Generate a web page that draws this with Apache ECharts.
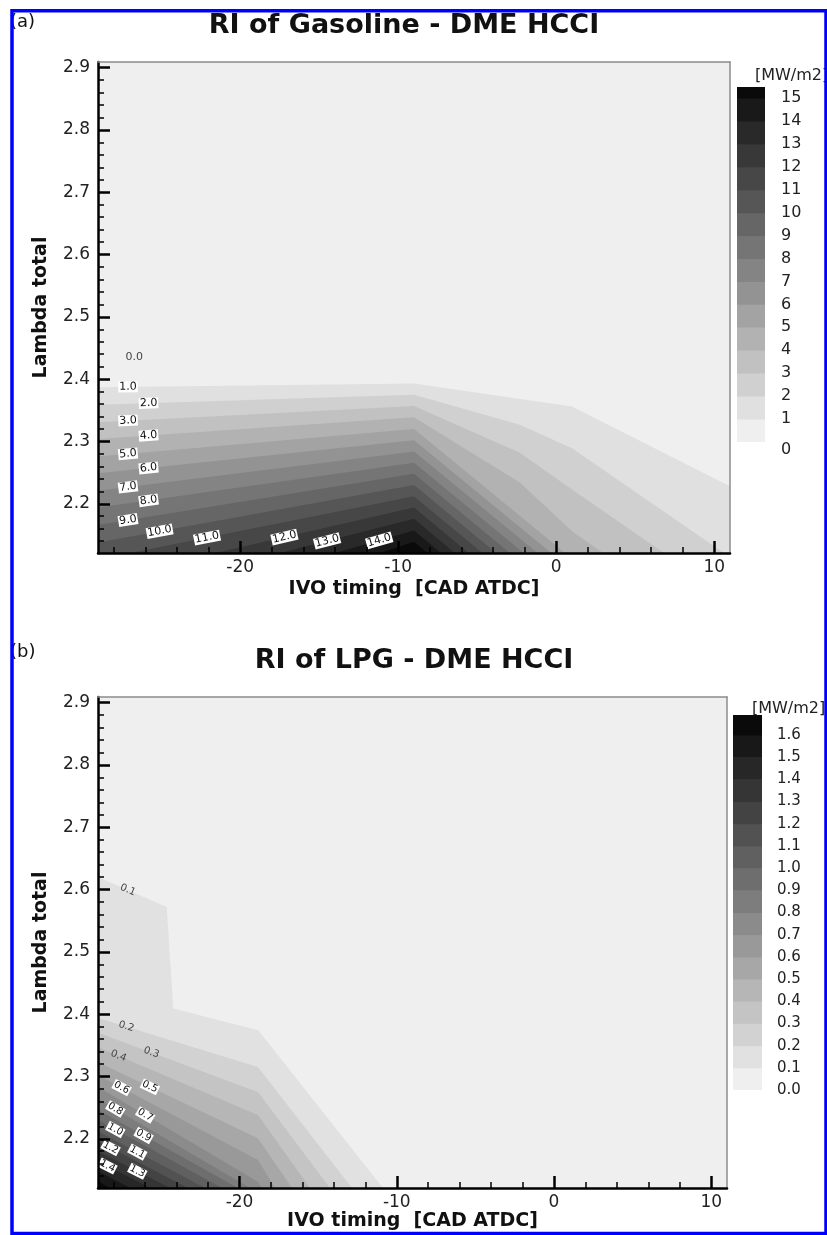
<!DOCTYPE html>
<html>
<head>
<meta charset="utf-8">
<title>RI contours</title>
<script src="https://cdn.jsdelivr.net/npm/echarts@6/dist/echarts.min.js"></script>
<style>
  html, body { margin: 0; padding: 0; background: #fff; }
  #chart { width: 827px; height: 1235px; }
</style>
</head>
<body>
<div id="chart"></div>
<script>
// ---- axis ranges and ticks -------------------------------------------------
const X_RANGE = [-29, 11];
const LAMBDA_RANGE = [2.121, 2.909];
const xMajorTicks = [-20, -10, 0, 10];
const yMajorTicks = [2.2, 2.3, 2.4, 2.5, 2.6, 2.7, 2.8, 2.9];

// ---- (a) Gasoline - DME: ringing intensity iso-lines [IVO, lambda] ---------
const gasolineLevels = [1, 2, 3, 4, 5, 6, 7, 8, 9, 10, 11, 12, 13, 14, 15];
const gasolineIsolines = [
  [[-29, 2.387], [-9, 2.393], [1, 2.356], [11, 2.228]],
  [[-29, 2.359], [-9, 2.375], [-2.3, 2.327], [1, 2.289], [10.62, 2.121]],
  [[-29, 2.331], [-9, 2.357], [-2.3, 2.282], [1, 2.223], [6.82, 2.121]],
  [[-29, 2.304], [-9, 2.339], [-2.3, 2.234], [1, 2.156], [2.96, 2.121]],
  [[-29, 2.276], [-9, 2.320], [0.56, 2.121]],
  [[-29, 2.249], [-9, 2.302], [-0.31, 2.121]],
  [[-29, 2.221], [-9, 2.284], [-1.18, 2.121]],
  [[-29, 2.194], [-9, 2.266], [-2.05, 2.121]],
  [[-29, 2.166], [-9, 2.248], [-2.93, 2.121]],
  [[-29, 2.138], [-9, 2.230], [-3.80, 2.121]],
  [[-26.97, 2.121], [-9, 2.212], [-4.67, 2.121]],
  [[-21.59, 2.121], [-9, 2.194], [-5.54, 2.121]],
  [[-17.48, 2.121], [-9, 2.176], [-6.42, 2.121]],
  [[-14.0, 2.121], [-9, 2.157], [-7.29, 2.121]],
  [[-11.15, 2.121], [-9, 2.139], [-8.16, 2.121]]
];
// contour labels: [level, IVO] on the iso-line, or [level, IVO, lambda] off-line
const gasolineLabels = [
  [0, -26.7, 2.435],
  [1, -27.1], [2, -25.8], [3, -27.1], [4, -25.8], [5, -27.1], [6, -25.8],
  [7, -27.1], [8, -25.8], [9, -27.1], [10, -25.1], [11, -22.1], [12, -17.2],
  [13, -14.5], [14, -11.2]
];
const gasolineLegendTicks = [0, 1, 2, 3, 4, 5, 6, 7, 8, 9, 10, 11, 12, 13, 14, 15];
const gasolineLegendTop = 15.48;

// ---- (b) LPG - DME ----------------------------------------------------------
const lpgLevels = [0.1, 0.2, 0.3, 0.4, 0.5, 0.6, 0.7, 0.8, 0.9, 1.0, 1.1, 1.2, 1.3, 1.4, 1.5, 1.6];
const lpgIsolines = [
  [[-29, 2.620], [-24.63, 2.572], [-24.21, 2.409], [-18.81, 2.374], [-10.88, 2.121]],
  [[-29, 2.394], [-18.83, 2.315], [-12.85, 2.121]],
  [[-29, 2.370], [-18.83, 2.275], [-14.25, 2.121]],
  [[-29, 2.347], [-18.83, 2.238], [-15.52, 2.121]],
  [[-29, 2.323], [-18.83, 2.201], [-16.66, 2.121]],
  [[-29, 2.302], [-18.83, 2.166], [-17.74, 2.121]],
  [[-29, 2.283], [-18.83, 2.131], [-18.57, 2.121]],
  [[-29, 2.264], [-19.33, 2.121]],
  [[-29, 2.246], [-20.10, 2.121]],
  [[-29, 2.230], [-21.11, 2.121]],
  [[-29, 2.212], [-22.20, 2.121]],
  [[-29, 2.196], [-23.28, 2.121]],
  [[-29, 2.180], [-24.42, 2.121]],
  [[-29, 2.164], [-25.69, 2.121]],
  [[-29, 2.148], [-26.96, 2.121]],
  [[-29, 2.132], [-28.24, 2.121]]
];
const lpgLabels = [
  [0.1, -27.1], [0.2, -27.2], [0.3, -25.6], [0.4, -27.7], [0.5, -25.7],
  [0.6, -27.5], [0.7, -26.0], [0.8, -27.9], [0.9, -26.1], [1.0, -27.9],
  [1.1, -26.5], [1.2, -28.2], [1.3, -26.5], [1.4, -28.4]
];
const lpgLegendTicks = [0.0, 0.1, 0.2, 0.3, 0.4, 0.5, 0.6, 0.7, 0.8, 0.9, 1.0, 1.1, 1.2, 1.3, 1.4, 1.5, 1.6];
const lpgLegendTop = 1.69;

// ---- helpers ---------------------------------------------------------------
const FONT = "'DejaVu Sans', sans-serif";

function minorTicks(lo, hi, step, majors) {
  const out = [];
  const n = Math.round((hi - lo) / step);
  for (let i = 0; i <= n; i++) {
    const v = Math.round((lo + i * step) * 1000) / 1000;
    if (!majors.some(m => Math.abs(m - v) < 1e-6)) out.push(v);
  }
  return out;
}
const xMinorTicks = minorTicks(-28, 10, 2, xMajorTicks);
const yMinorTicks = minorTicks(2.14, 2.90, 0.02, yMajorTicks);

// grey ramp: band k of n, light to black
function bandColor(k, n) {
  const g = Math.round(239 - k * 229 / (n - 1));
  return 'rgb(' + g + ',' + g + ',' + g + ')';
}

// lambda of an iso-line at a given IVO, plus the segment it falls on
function onLine(line, x) {
  let i = 0;
  while (i < line.length - 2 && x > line[i + 1][0]) i++;
  const a = line[i], b = line[i + 1];
  const t = (x - a[0]) / (b[0] - a[0]);
  return { lam: a[1] + t * (b[1] - a[1]), a, b };
}

function plotAxes(gridIndex, nameGapX) {
  const xs = [
    {
      type: 'value', gridIndex, position: 'bottom', min: X_RANGE[0], max: X_RANGE[1], z: 6,
      axisLine: { show: true, onZero: false, lineStyle: { color: '#000', width: 2.5 } },
      axisTick: { show: true, inside: true, length: 12, customValues: xMajorTicks, lineStyle: { color: '#000', width: 2.5 } },
      axisLabel: { show: true, customValues: xMajorTicks, margin: 6, color: '#222', fontSize: 17, fontFamily: FONT },
      splitLine: { show: false },
      name: 'IVO timing  [CAD ATDC]', nameLocation: 'middle', nameGap: nameGapX,
      nameTextStyle: { fontSize: 19, fontWeight: 'bold', fontFamily: FONT, color: '#111' }
    },
    {
      type: 'value', gridIndex, position: 'bottom', min: X_RANGE[0], max: X_RANGE[1], z: 6,
      axisLine: { show: false, onZero: false },
      axisTick: { show: true, inside: true, length: 6, customValues: xMinorTicks, lineStyle: { color: '#000', width: 1.5 } },
      axisLabel: { show: false }, splitLine: { show: false }
    },
    {
      type: 'value', gridIndex, position: 'top', min: X_RANGE[0], max: X_RANGE[1], z: 6,
      axisLine: { show: true, onZero: false, lineStyle: { color: '#8c8c8c', width: 1.5 } },
      axisTick: { show: false }, axisLabel: { show: false }, splitLine: { show: false }
    }
  ];
  const ys = [
    {
      type: 'value', gridIndex, position: 'left', min: LAMBDA_RANGE[0], max: LAMBDA_RANGE[1], z: 6,
      axisLine: { show: true, onZero: false, lineStyle: { color: '#000', width: 2.5 } },
      axisTick: { show: true, inside: true, length: 12, customValues: yMajorTicks, lineStyle: { color: '#000', width: 2.5 } },
      axisLabel: { show: true, customValues: yMajorTicks, margin: 8, color: '#222', fontSize: 17, fontFamily: FONT,
                   formatter: v => v.toFixed(1) },
      splitLine: { show: false },
      name: 'Lambda total', nameLocation: 'middle', nameRotate: 90, nameGap: 47,
      nameTextStyle: { fontSize: 19, fontWeight: 'bold', fontFamily: FONT, color: '#111' }
    },
    {
      type: 'value', gridIndex, position: 'left', min: LAMBDA_RANGE[0], max: LAMBDA_RANGE[1], z: 6,
      axisLine: { show: false, onZero: false },
      axisTick: { show: true, inside: true, length: 6, customValues: yMinorTicks, lineStyle: { color: '#000', width: 1.5 } },
      axisLabel: { show: false }, splitLine: { show: false }
    },
    {
      type: 'value', gridIndex, position: 'right', min: LAMBDA_RANGE[0], max: LAMBDA_RANGE[1], z: 6,
      axisLine: { show: true, onZero: false, lineStyle: { color: '#8c8c8c', width: 1.5 } },
      axisTick: { show: false }, axisLabel: { show: false }, splitLine: { show: false }
    }
  ];
  return { xs, ys };
}

function legendAxes(gridIndex, top, ticks, fmt, fontSize, margin) {
  return {
    x: { type: 'value', gridIndex, min: 0, max: 1, show: false },
    y: {
      type: 'value', gridIndex, position: 'right', min: 0, max: top,
      axisLine: { show: false }, axisTick: { show: false }, splitLine: { show: false },
      axisLabel: {
        show: true, customValues: ticks, margin, color: '#222', fontSize, fontFamily: FONT, formatter: fmt,
        rich: { low: { padding: [16, 0, 0, 0], fontSize, fontFamily: FONT, color: '#222' } }
      }
    }
  };
}

// filled contour bands: region at or above each level, stacked light to dark
function bandSeries(xi, yi, levels, lines) {
  const n = levels.length + 1;
  return {
    type: 'custom', xAxisIndex: xi, yAxisIndex: yi, clip: true, silent: true, z: 2,
    data: levels.map((lv, i) => [i, lv]),
    renderItem(params, api) {
      const i = api.value(0);
      const line = lines[i];
      const pts = line.map(p => api.coord(p));
      pts.push(api.coord([line[line.length - 1][0], LAMBDA_RANGE[0]]));
      pts.push(api.coord([line[0][0], LAMBDA_RANGE[0]]));
      return { type: 'polygon', shape: { points: pts }, style: { fill: bandColor(i + 1, n), stroke: null } };
    }
  };
}

function labelSeries(xi, yi, levels, lines, labels, fontSize, boxFrom) {
  return {
    type: 'custom', xAxisIndex: xi, yAxisIndex: yi, clip: false, silent: true, z: 4,
    data: labels.map((l, i) => [i, l[0]]),
    renderItem(params, api) {
      const lab = labels[api.value(0)];
      const idx = levels.findIndex(v => Math.abs(v - lab[0]) < 1e-9);
      let pt, rot = 0;
      if (lab.length > 2 || idx < 0) {
        pt = api.coord([lab[1], lab[2]]);
      } else {
        const r = onLine(lines[idx], lab[1]);
        pt = api.coord([lab[1], r.lam]);
        const pa = api.coord(r.a), pb = api.coord(r.b);
        rot = -Math.atan2(pb[1] - pa[1], pb[0] - pa[0]);
      }
      const boxed = lab[0] >= boxFrom;
      return {
        type: 'text', x: pt[0], y: pt[1], rotation: rot,
        style: {
          text: lab[0].toFixed(1),
          fontSize, fontFamily: FONT,
          fill: boxed ? '#111' : '#444',
          align: 'center', verticalAlign: 'middle',
          textAlign: 'center', textVerticalAlign: 'middle',
          backgroundColor: boxed ? '#ffffff' : 'transparent',
          padding: [0, 1]
        }
      };
    }
  };
}

function legendSeries(xi, yi, ticks, top) {
  const n = ticks.length;
  return {
    type: 'custom', xAxisIndex: xi, yAxisIndex: yi, clip: true, silent: true,
    data: ticks.map((t, k) => [k, t, k + 1 < n ? ticks[k + 1] : top]),
    renderItem(params, api) {
      const k = api.value(0);
      const p0 = api.coord([0, api.value(2)]);
      const p1 = api.coord([1, api.value(1)]);
      return {
        type: 'rect',
        shape: { x: p0[0], y: p0[1], width: p1[0] - p0[0], height: p1[1] - p0[1] + 0.5 },
        style: { fill: bandColor(k, n) }
      };
    }
  };
}

// ---- layout ----------------------------------------------------------------
const aPlot = plotAxes(0, 27);
const aLeg = legendAxes(1, gasolineLegendTop, gasolineLegendTicks,
  v => (v === 0 ? '{low|0}' : String(Math.round(v))), 16, 16);
const bPlot = plotAxes(2, 24);
const bLeg = legendAxes(3, lpgLegendTop, lpgLegendTicks, v => v.toFixed(1), 15, 15);

const plotBg = bandColor(0, 2);

const option = {
  backgroundColor: '#ffffff',
  animation: false,
  grid: [
    { left: 98, top: 62, width: 632, height: 491, show: true, backgroundColor: plotBg, borderWidth: 0, outerBoundsMode: 'none' },
    { left: 737, top: 87, width: 28, height: 355, show: false, outerBoundsMode: 'none' },
    { left: 98, top: 697, width: 629, height: 491, show: true, backgroundColor: plotBg, borderWidth: 0, outerBoundsMode: 'none' },
    { left: 733, top: 715, width: 29, height: 375, show: false, outerBoundsMode: 'none' }
  ],
  xAxis: [...aPlot.xs, aLeg.x, ...bPlot.xs, bLeg.x],
  yAxis: [...aPlot.ys, aLeg.y, ...bPlot.ys, bLeg.y],
  series: [
    bandSeries(0, 0, gasolineLevels, gasolineIsolines),
    labelSeries(0, 0, gasolineLevels, gasolineIsolines, gasolineLabels, 11, 1),
    legendSeries(3, 3, gasolineLegendTicks, gasolineLegendTop),
    bandSeries(4, 4, lpgLevels, lpgIsolines),
    labelSeries(4, 4, lpgLevels, lpgIsolines, lpgLabels, 10, 0.45),
    legendSeries(7, 7, lpgLegendTicks, lpgLegendTop)
  ],
  graphic: [
    { type: 'text', x: 404, y: 26, z: 10,
      style: { text: 'RI of Gasoline - DME HCCI', fontSize: 27, fontWeight: 'bold', fontFamily: FONT, fill: '#111',
               align: 'center', verticalAlign: 'middle', textAlign: 'center', textVerticalAlign: 'middle' } },
    { type: 'text', x: 414, y: 661, z: 10,
      style: { text: 'RI of LPG - DME HCCI', fontSize: 27, fontWeight: 'bold', fontFamily: FONT, fill: '#111',
               align: 'center', verticalAlign: 'middle', textAlign: 'center', textVerticalAlign: 'middle' } },
    { type: 'text', x: 10, y: 22, z: 10,
      style: { text: '(a)', fontSize: 18, fontFamily: FONT, fill: '#111',
               align: 'left', verticalAlign: 'middle', textAlign: 'left', textVerticalAlign: 'middle' } },
    { type: 'text', x: 10, y: 652, z: 10,
      style: { text: '(b)', fontSize: 18, fontFamily: FONT, fill: '#111',
               align: 'left', verticalAlign: 'middle', textAlign: 'left', textVerticalAlign: 'middle' } },
    { type: 'text', x: 755, y: 76, z: 10,
      style: { text: '[MW/m2]', fontSize: 16, fontFamily: FONT, fill: '#222',
               align: 'left', verticalAlign: 'middle', textAlign: 'left', textVerticalAlign: 'middle' } },
    { type: 'text', x: 752, y: 709, z: 10,
      style: { text: '[MW/m2]', fontSize: 16, fontFamily: FONT, fill: '#222',
               align: 'left', verticalAlign: 'middle', textAlign: 'left', textVerticalAlign: 'middle' } },
    { type: 'rect', z: 20, silent: true,
      shape: { x: 12, y: 10.7, width: 814, height: 1222.8 },
      style: { fill: null, stroke: '#0000ff', lineWidth: 3.5 } }
  ]
};

const chart = echarts.init(document.getElementById('chart'), null, { renderer: 'canvas', width: 827, height: 1235 });
chart.setOption(option);
</script>
</body>
</html>
